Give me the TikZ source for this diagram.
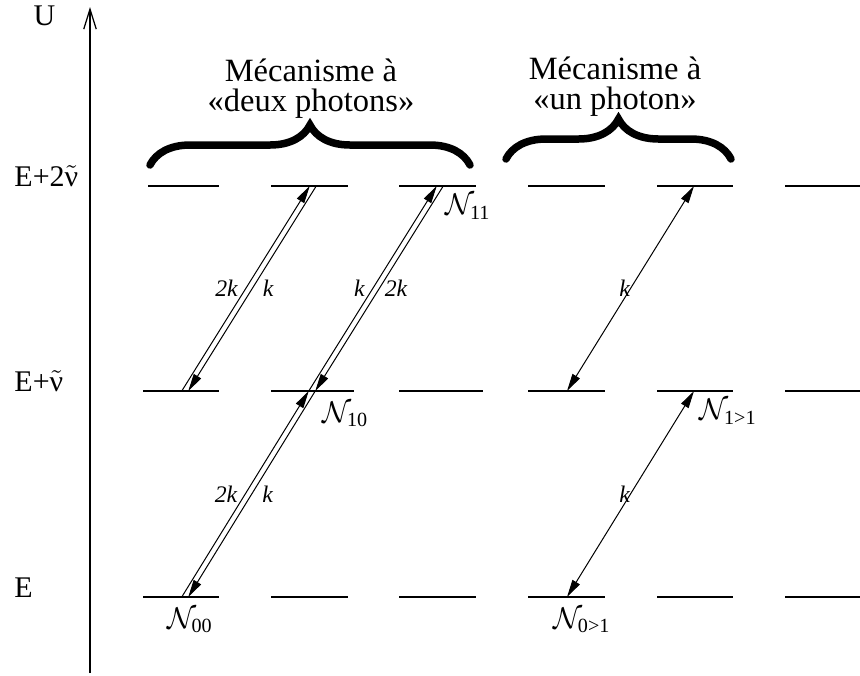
\documentclass[tikz,border=0pt]{standalone}
\usepackage{amsmath}
\usepackage{fontspec}
\setmainfont{Liberation Serif}
\usepackage{tikz}
\usetikzlibrary{arrows.meta,positioning,calc,decorations.pathreplacing}
\newcommand{\nut}{\ensuremath{\tilde{\text{ν}}}}

\begin{document}
\begin{tikzpicture}[
    x=0.4pt, y=-0.4pt,
    level/.style={line width=0.6pt},
    axis/.style={line width=0.5pt, -{Straight Barb[length=8pt, width=5pt]}},
    photon/.style={line width=0.4pt, -{Triangle[length=7pt, width=3.4pt]}},
    photon2/.style={line width=0.4pt, {Triangle[length=7pt, width=3.4pt]}-{Triangle[length=7pt, width=3.4pt]}},
    klabel/.style={font=\fontsize{9.5}{11}\selectfont\itshape, inner sep=0pt},
    popul/.style={font=\fontsize{11.5}{13}\selectfont, inner sep=0pt},
    energy/.style={anchor=base west, inner sep=0pt, font=\fontsize{12}{14}\selectfont},
    mechbrace/.style={decorate, decoration={brace, amplitude=16pt}, line width=3pt, line cap=round},
    mech/.style={align=center, font=\fontsize{13}{12}\selectfont, inner sep=0pt}
  ]
  \useasboundingbox (0,0) rectangle (860,675);

  % --- energy axis ---
  \coordinate (ax0) at (90,673);
  \coordinate (ax1) at (90,7);
  \draw[axis] (ax0) -- (ax1);
  \node[energy] (U) at (33,25) {U};
  \node[energy] (E2) at (14,186) {E+2\nut};
  \node[energy] (E1) at (14,391) {E+\nut};
  \node[energy] (E0) at (14,597) {E};

  % --- levels ---
  \foreach \a/\b in {148/219, 271/348, 399/476, 528/605, 657/733, 785/860}
    \draw[level] (\a,186) -- (\b,186);
  \foreach \a/\b in {143/219, 271/354, 399/483, 528/605, 657/733, 785/860}
    \draw[level] (\a,391) -- (\b,391);
  \foreach \a/\b in {143/219, 271/348, 399/476, 528/605, 657/733, 785/860}
    \draw[level] (\a,597) -- (\b,597);

  % --- end points of the transitions ---
  \coordinate (m1) at (185,391);
  \coordinate (t2) at (313,186);
  \coordinate (n10) at (312,391);
  \coordinate (n11) at (440,186);
  \coordinate (n00) at (185,597);
  \coordinate (m4) at (567,391);
  \coordinate (t5) at (694,186);
  \coordinate (n01) at (567,597);
  \coordinate (n1g) at (694,391);

  % --- two photons ---
  \draw[photon] ([xshift=-1.3pt]m1) -- ([xshift=-1.3pt]t2)
    node[klabel, midway, left=3pt] {2k};
  \draw[photon] ([xshift=1.3pt]t2) -- ([xshift=1.3pt]m1)
    node[klabel, midway, right=4pt] {k};

  \draw[photon] ([xshift=-1.3pt]n10) -- ([xshift=-1.3pt]n11)
    node[klabel, midway, left=3pt] {k};
  \draw[photon] ([xshift=1.3pt]n11) -- ([xshift=1.3pt]n10)
    node[klabel, midway, right=2pt] {2k};

  \draw[photon] ([xshift=-1.3pt]n00) -- ([xshift=-1.3pt]n10)
    node[klabel, midway, left=3pt] {2k};
  \draw[photon] ([xshift=1.3pt]n10) -- ([xshift=1.3pt]n00)
    node[klabel, midway, right=4pt] {k};

  % --- one photon ---
  \draw[photon2] (m4) -- (t5)
    node[klabel, midway, left=0pt] {k};
  \draw[photon2] (n01) -- (n1g)
    node[klabel, midway, left=0pt] {k};

  % --- populations ---
  \node[popul, anchor=north west] (L11) at ([xshift=2pt, yshift=-3pt]n11) {$\mathcal{N}_{\text{11}}$};
  \node[popul, anchor=north west] (L10) at ([xshift=4pt, yshift=-4pt]n10) {$\mathcal{N}_{\text{10}}$};
  \node[popul, anchor=north] (L00) at ([xshift=2pt, yshift=-4pt]n00) {$\mathcal{N}_{\text{00}}$};
  \node[popul, anchor=north west] (L1g) at ([xshift=2pt, yshift=-3pt]n1g) {$\mathcal{N}_{\text{1>1}}$};
  \node[popul, anchor=north] (L0g) at ([xshift=6pt, yshift=-4pt]n01) {$\mathcal{N}_{\text{0>1}}$};

  % --- mechanisms ---
  \draw[mechbrace] (150,165) -- (470,165);
  \draw[mechbrace] (506,159) -- (731,159);
  \node[mech] (two) at (311,89) {Mécanisme à\\«deux photons»};
  \node[mech] (one) at (615,87) {Mécanisme à\\«un photon»};
\end{tikzpicture}
\end{document}
